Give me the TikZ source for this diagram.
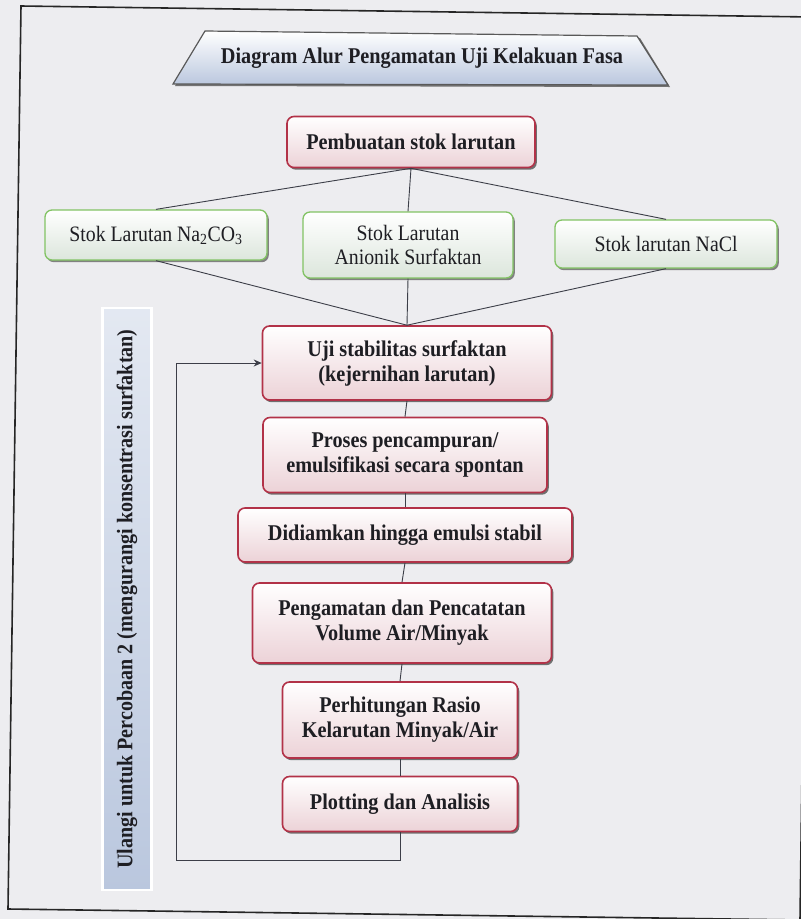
\documentclass[tikz,border=0pt]{standalone}
\usepackage{fontspec}
\setmainfont{Liberation Serif}[FakeStretch=0.9]
\usetikzlibrary{shadows,arrows.meta}
\definecolor{paper}{RGB}{237,237,240}
\definecolor{redline}{RGB}{178,50,72}
\definecolor{pinkfill}{RGB}{236,210,215}
\definecolor{greenline}{RGB}{130,195,100}
\definecolor{greenfill}{RGB}{220,230,220}
\definecolor{conn}{RGB}{60,62,72}
\definecolor{ink}{RGB}{30,30,35}
\definecolor{bluefill}{RGB}{186,199,222}
\tikzset{
  redbox/.style={draw=redline, line width=1.6pt, rounded corners=7pt,
    top color=white, bottom color=pinkfill, text=ink,
    font=\fontsize{22.5}{25}\selectfont\bfseries, align=center, inner sep=0pt,
    drop shadow={shadow xshift=1.8pt, shadow yshift=-2.2pt, fill=black!65, opacity=0.85}},
  greenbox/.style={draw=greenline, line width=1.3pt, rounded corners=7pt,
    top color=white, bottom color=greenfill, text=ink,
    font=\fontsize{22}{24}\selectfont, align=center, inner sep=0pt,
    drop shadow={shadow xshift=1.8pt, shadow yshift=-2.2pt, fill=black!60, opacity=0.8}},
  link/.style={draw=conn, line width=0.9pt},
  backlink/.style={draw=conn, line width=1pt, -{Stealth[length=8pt,width=7pt]}},
}
\begin{document}
\begin{tikzpicture}[x=1pt,y=-1pt]
\useasboundingbox (0,0) rectangle (801,919);
\fill[paper] (0,0) rectangle (801,919);
\begin{scope}
\clip (0,0) rectangle (801,919);
\draw[black!85, line width=1.6pt] (21,6) -- (812,17) -- (800,920) -- (8,909) -- cycle;
\end{scope}

% title trapezoid
\fill[black!55] (175,86) -- (670,87) -- (640,38) -- (207,33) -- cycle;
\draw[draw=black!65, line width=1.2pt, top color=white, bottom color=bluefill]
  (173,84) -- (668,85) -- (637,36) -- (205,31) -- cycle;
\node[font=\fontsize{22.5}{25}\selectfont\bfseries, text=ink] (title) at (422,58) {Diagram Alur Pengamatan Uji Kelakuan Fasa};

% boxes
\node[redbox, minimum width=248pt, minimum height=51pt] (pemb) at (411,142) {Pembuatan stok larutan};
\node[greenbox, minimum width=222pt, minimum height=50pt] (na) at (156,235) {Stok Larutan Na\textsubscript{2}CO\textsubscript{3}};
\node[greenbox, minimum width=210pt, minimum height=66pt] (anion) at (408,245) {Stok Larutan\\Anionik Surfaktan};
\node[greenbox, minimum width=222pt, minimum height=48pt] (nacl) at (666,244) {Stok larutan NaCl};
\node[redbox, minimum width=289pt, minimum height=74pt] (uji) at (407,363) {Uji stabilitas surfaktan\\(kejernihan larutan)};
\node[redbox, minimum width=284pt, minimum height=75pt] (proses) at (405,455) {Proses pencampuran/\\emulsifikasi secara spontan};
\node[redbox, minimum width=334pt, minimum height=54pt] (diam) at (405,535) {Didiamkan hingga emulsi stabil};
\node[redbox, minimum width=299pt, minimum height=80pt] (amat) at (402,623) {Pengamatan dan Pencatatan\\Volume Air/Minyak};
\node[redbox, minimum width=235pt, minimum height=76pt] (hitung) at (400,720) {Perhitungan Rasio\\Kelarutan Minyak/Air};
\node[redbox, minimum width=235pt, minimum height=55pt] (plot) at (400,804) {Plotting dan Analisis};

% vertical label
\node[rotate=90, minimum width=582pt, minimum height=49pt, inner sep=0pt,
  draw=white, line width=2.5pt, top color=white!60!bluefill, bottom color=bluefill,
  drop shadow={shadow xshift=1pt, shadow yshift=-1pt, fill=black!25, opacity=0.6},
  font=\fontsize{22.3}{24}\selectfont\bfseries, text=ink] (ulang) at (127,599)
  {Ulangi untuk Percobaan 2 (mengurangi konsentrasi surfaktan)};

% connectors
\draw[link] (pemb.south) -- (na.north);
\draw[link] (pemb.south) -- (anion.north);
\draw[link] (pemb.south) -- (nacl.north);
\draw[link] (na.south) -- (uji.north);
\draw[link] (anion.south) -- (uji.north);
\draw[link] (nacl.south) -- (uji.north);
\draw[link] (uji.south) -- (proses.north);
\draw[link] (proses.south) -- (diam.north);
\draw[link] (diam.south) -- (amat.north);
\draw[link] (amat.south) -- (hitung.north);
\draw[link] (hitung.south) -- (plot.north);

\coordinate (fb1) at (400,860);
\coordinate (fb2) at (176,860);
\draw[backlink] (plot.south) -- (fb1) -- (fb2) |- (uji.west);
\end{tikzpicture}
\end{document}
